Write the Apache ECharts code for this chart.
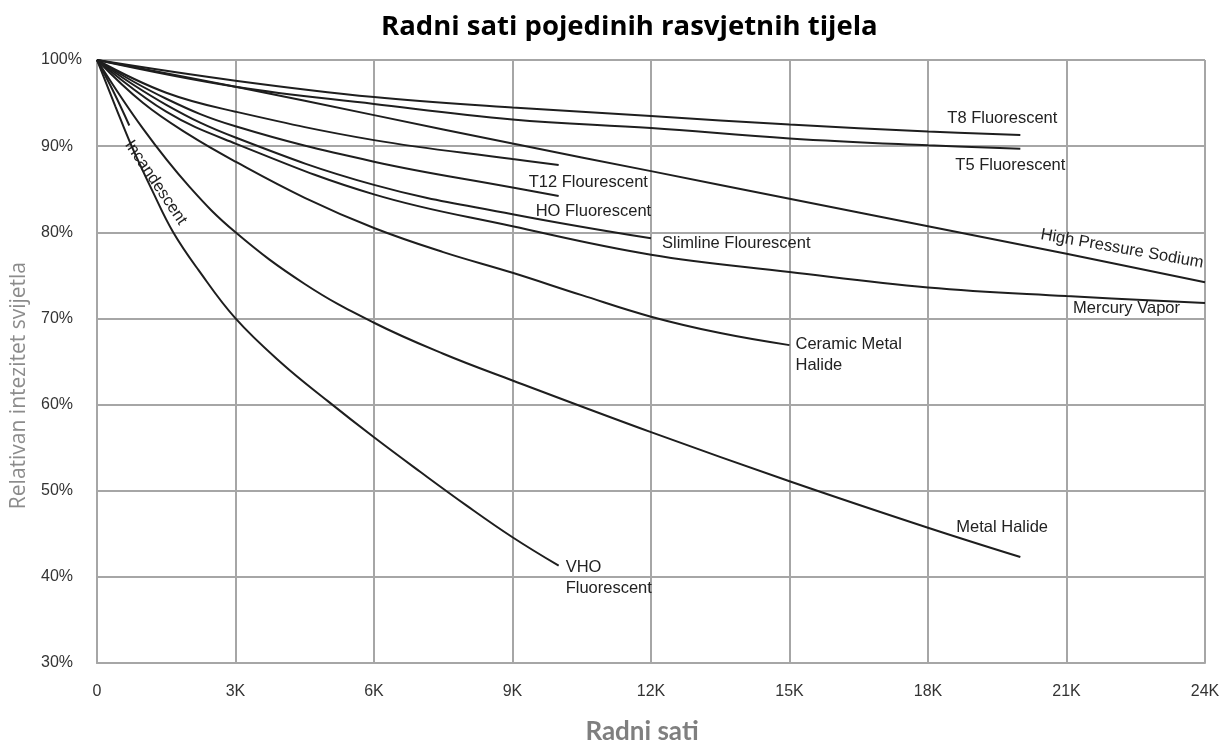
<!DOCTYPE html>
<html>
<head>
<meta charset="utf-8">
<script src="https://cdn.jsdelivr.net/npm/echarts@6/dist/echarts.min.js"></script>
<style>
html,body{margin:0;padding:0;background:#fff;overflow:hidden;width:1219px;height:742px;}
#chart{width:1219px;height:742px;overflow:hidden;}
</style>
</head>
<body>
<div id="chart"></div>
<script>
// Data: [hours, relative intensity %]
const t8Fluorescent = [[0,100],[3000,97.6],[6000,95.7],[9000,94.5],[12000,93.5],[15000,92.5],[18000,91.7],[20000,91.3]];
const t5Fluorescent = [[0,100],[3000,96.9],[6000,94.9],[9000,93.1],[12000,92.1],[15000,90.9],[18000,90.1],[20000,89.7]];
const highPressureSodium = [[0,100],[3000,96.9],[6000,93.6],[9000,90.3],[12000,87.1],[15000,83.9],[18000,80.7],[21000,77.5],[24000,74.2]];
const t12Fluorescent = [[0,100],[1500,96.2],[3000,94.0],[6000,90.7],[9000,88.5],[10000,87.8]];
const hoFluorescent = [[0,100],[1500,95.5],[3000,92.3],[6000,88.2],[9000,85.2],[10000,84.2]];
const slimlineFluorescent = [[0,100],[1500,94.8],[3000,91.0],[6000,85.5],[9000,82.1],[12000,79.3]];
const mercuryVapor = [[0,100],[1500,94.0],[3000,90.3],[6000,84.4],[9000,80.7],[12000,77.4],[15000,75.4],[18000,73.6],[21000,72.6],[24000,71.8]];
const ceramicMetalHalide = [[0,100],[1000,95.0],[2000,91.3],[3000,88.2],[4500,84.0],[6000,80.5],[7500,77.7],[9000,75.3],[10500,72.7],[12000,70.2],[13500,68.3],[15000,66.9]];
const metalHalide = [[0,100],[1000,92.0],[2000,85.3],[3000,80.0],[4500,74.0],[6000,69.5],[7500,65.9],[9000,62.8],[12000,56.8],[15000,51.1],[18000,45.7],[20000,42.3]];
const vhoFluorescent = [[0,100],[400,94.6],[750,90.0],[1200,84.8],[1650,80.0],[2200,75.6],[3000,70.0],[4000,64.8],[5000,60.4],[6000,56.2],[7000,52.2],[8000,48.3],[9000,44.6],[10000,41.3]];
const incandescent = [[0,100],[350,96.4],[700,92.4]];

const seriesNames = ['T8 Fluorescent','T5 Fluorescent','High Pressure Sodium','T12 Flourescent','HO Fluorescent','Slimline Flourescent','Mercury Vapor','Ceramic Metal\nHalide','Metal Halide','VHO\nFluorescent','Incandescent'];
const seriesData = [t8Fluorescent,t5Fluorescent,highPressureSodium,t12Fluorescent,hoFluorescent,slimlineFluorescent,mercuryVapor,ceramicMetalHalide,metalHalide,vhoFluorescent,incandescent];

const titleText = 'Radni sati pojedinih rasvjetnih tijela';
const xAxisName = 'Radni sati';
const yAxisName = 'Relativan intezitet svijetla';

// label placement (style only)
const labelStyles = [
  {offset:[-73,-16], align:'left', verticalAlign:'middle'},
  {offset:[-65,17], align:'left', verticalAlign:'middle'},
  {offset:[-5,-10], align:'right', verticalAlign:'bottom', rotate:-10},
  {offset:[-30,17], align:'left', verticalAlign:'middle'},
  {offset:[-23,15], align:'left', verticalAlign:'middle'},
  {offset:[11,5], align:'left', verticalAlign:'middle'},
  {offset:[-132,6], align:'left', verticalAlign:'middle'},
  {offset:[6,10], align:'left', verticalAlign:'middle', lineHeight:21},
  {offset:[-64,-30], align:'left', verticalAlign:'middle'},
  {offset:[7,12], align:'left', verticalAlign:'middle', lineHeight:21},
  {offset:[13,10], align:'left', verticalAlign:'middle', rotate:-56}
];

const chart = echarts.init(document.getElementById('chart'));
const labelFont = 'Liberation Sans, Arial, sans-serif';

const series = seriesData.map((d,i)=>({
  name: seriesNames[i],
  type:'line',
  data:d,
  smooth:0.4,
  showSymbol:false,
  lineStyle:{color:'#1e1e1e', width:2},
  itemStyle:{color:'#1e1e1e'},
  silent:true,
  animation:false,
  endLabel:Object.assign({
    show:true,
    formatter:seriesNames[i],
    distance:0,
    color:'#222',
    fontSize:16.5,
    fontFamily:labelFont
  }, labelStyles[i])
}));

chart.setOption({
  backgroundColor:'#fff',
  animation:false,
  title:{
    text:titleText,
    left:376,
    top:8,
    textStyle:{fontFamily:'Open Sans, sans-serif', fontWeight:'bold', fontSize:27.5, color:'#000'}
  },
  grid:{left:97, right:14, top:60, bottom:79, containLabel:false, outerBoundsMode:'none'},
  xAxis:{
    type:'value', min:0, max:24000, interval:3000,
    name:xAxisName, nameLocation:'middle', nameGap:56,
    nameTextStyle:{color:'#7f7f7f', fontSize:26, fontWeight:'bold', fontFamily:'Lato, sans-serif', padding:[0,18,0,0]},
    axisLine:{show:true, lineStyle:{color:'#a6a6a6', width:2}},
    axisTick:{show:false},
    splitLine:{show:true, lineStyle:{color:'#a6a6a6', width:2}},
    axisLabel:{
      margin:21, color:'#333', fontSize:16, fontFamily:labelFont,
      formatter:v=> v===0 ? '0' : (v/1000)+'K'
    }
  },
  yAxis:{
    type:'value', min:30, max:100, interval:10,
    axisLine:{show:true, lineStyle:{color:'#a6a6a6', width:2}},
    axisTick:{show:false},
    splitLine:{show:true, lineStyle:{color:'#a6a6a6', width:2}},
    axisLabel:{margin:56, align:'left', color:'#333', fontSize:16, fontFamily:labelFont, formatter:v=>v+'%'}
  },
  graphic:[{
    type:'text',
    left:9, top:262,
    rotation:Math.PI/2,
    style:{text:yAxisName, fill:'#8c8c8c', fontSize:21, fontFamily:'Open Sans, sans-serif'}
  }],
  series:series
});
</script>
</body>
</html>
